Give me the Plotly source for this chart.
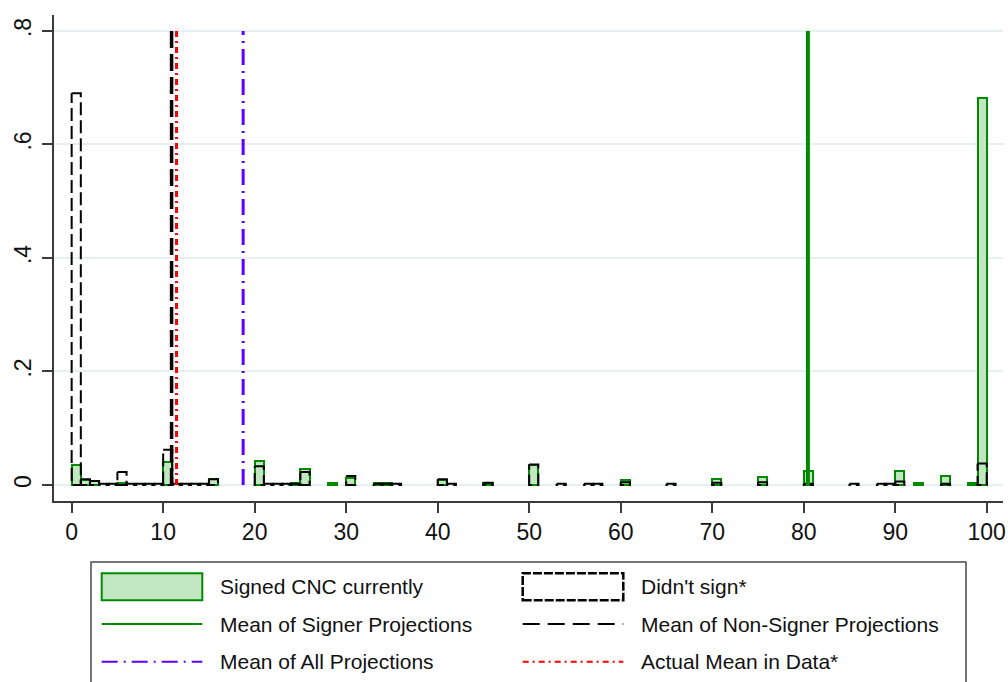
import plotly.graph_objects as go

# Histogram bins (left edge of each 1-unit bin) and densities
signed_bins = [0, 1, 2, 5, 10, 15, 20, 24, 25, 28, 30, 33, 34, 40, 45, 50, 60,
               70, 75, 80, 90, 92, 95, 98, 99]
signed_density = [0.036, 0.008, 0.007, 0.004, 0.041, 0.010, 0.043, 0.003, 0.029,
                  0.003, 0.013, 0.004, 0.004, 0.009, 0.004, 0.036, 0.008,
                  0.011, 0.014, 0.025, 0.025, 0.003, 0.016, 0.004, 0.682]

nonsigner_bins = [0, 1, 2, 3, 4, 5, 6, 7, 8, 9, 10, 11, 12, 13, 14, 15, 20, 21, 22,
                  23, 24, 25, 30, 33, 34, 35, 40, 41, 45, 50, 53, 56, 57, 60, 65,
                  70, 75, 80, 85, 88, 89, 90, 95, 99]
nonsigner_density = [0.690, 0.010, 0.007, 0.002, 0.002, 0.023, 0.002, 0.002, 0.002,
                     0.002, 0.062, 0.002, 0.002, 0.002, 0.002, 0.010, 0.033, 0.002,
                     0.002, 0.002, 0.002, 0.023, 0.016, 0.002, 0.002, 0.002, 0.010,
                     0.002, 0.004, 0.036, 0.002, 0.002, 0.002, 0.005, 0.002, 0.004,
                     0.005, 0.002, 0.002, 0.002, 0.002, 0.006, 0.002, 0.038]

# Reference means
mean_signer = 80.46
mean_nonsigner = 10.92
mean_all = 18.74
mean_actual = 11.46
line_top = 0.8

x_ticks = [0, 10, 20, 30, 40, 50, 60, 70, 80, 90, 100]
y_ticks = [0, 0.2, 0.4, 0.6, 0.8]
y_tick_text = ["0", ".2", ".4", ".6", ".8"]

GREEN = "#008a00"
GREEN_FILL = "#c2e6c2"
PURPLE = "#5c00ff"
RED = "#ff0000"
FONT = "Liberation Sans, Arial, Helvetica, sans-serif"

fig = go.Figure()

# Signers: filled bars
fig.add_trace(go.Bar(
    x=signed_bins, y=signed_density, width=1, offset=0,
    marker=dict(color=GREEN_FILL, line=dict(color=GREEN, width=2)),
    showlegend=False,
))

# Non-signers: dashed bar outlines (each bar traced from its top-left corner)
ox, oy = [], []
for b, h in zip(nonsigner_bins, nonsigner_density):
    ox += [b, b + 1, b + 1, b, b, None]
    oy += [h, h, 0, 0, h, None]
fig.add_trace(go.Scatter(
    x=ox, y=oy, mode="lines", connectgaps=False,
    line=dict(color="black", width=2, dash="13px,5px"),
    showlegend=False,
))

# Vertical mean lines
for m, color, width, dash in [
    (mean_signer, GREEN, 4, "solid"),
    (mean_nonsigner, "black", 3.5, "17px,6px"),
    (mean_all, PURPLE, 3, "16px,6px,2px,6px"),
    (mean_actual, RED, 3, "6px,4px,2px,4px"),
]:
    fig.add_trace(go.Scatter(
        x=[m, m], y=[0, line_top], mode="lines",
        line=dict(color=color, width=width, dash=dash),
        showlegend=False,
    ))

# Figure geometry (pixels)
W, H = 1008, 682
L, R, T, B = 54, 5, 15, 181
pw, ph = W - L - R, H - T - B


def px(xp):
    return (xp - L) / pw


def py(yp):
    return (H - B - yp) / ph


# Legend drawn as a boxed two-column key
shapes = []
annotations = []
shapes.append(dict(type="rect", xref="paper", yref="paper",
                   x0=px(91), x1=px(966), y0=py(700), y1=py(562),
                   line=dict(color="#4a4a4a", width=1.5), fillcolor="white",
                   layer="above"))

rows = [586.7, 624.0, 661.7]
cols = [(101.7, 202.3, 218.3), (522.7, 623.3, 639.3)]
entries = [
    (0, 0, "rect", dict(color=GREEN, width=2), GREEN_FILL, "Signed CNC currently"),
    (1, 0, "rect", dict(color="black", width=2.5, dash="9px,2px"), "rgba(0,0,0,0)", "Didn't sign*"),
    (0, 1, "line", dict(color=GREEN, width=2), None, "Mean of Signer Projections"),
    (1, 1, "line", dict(color="black", width=2, dash="17px,8px"), None, "Mean of Non-Signer Projections"),
    (0, 2, "line", dict(color=PURPLE, width=2, dash="16px,6px,2px,6px"), None, "Mean of All Projections"),
    (1, 2, "line", dict(color=RED, width=2, dash="6px,4px,2px,4px"), None, "Actual Mean in Data*"),
]
for c, r, kind, ln, fill, label in entries:
    x0, x1, xt = cols[c]
    yc = rows[r]
    if kind == "rect":
        shapes.append(dict(type="rect", xref="paper", yref="paper",
                           x0=px(x0), x1=px(x1), y0=py(yc + 13.5), y1=py(yc - 13.5),
                           line=ln, fillcolor=fill, layer="above"))
    else:
        shapes.append(dict(type="line", xref="paper", yref="paper",
                           x0=px(x0), x1=px(x1), y0=py(yc), y1=py(yc),
                           line=ln, layer="above"))
    annotations.append(dict(xref="paper", yref="paper", x=px(xt), y=py(yc),
                            text=label, showarrow=False, xanchor="left",
                            yanchor="middle",
                            font=dict(family=FONT, size=21, color="#111")))

axis_common = dict(
    showline=True, linecolor="#3a3a3a", linewidth=1.5,
    ticks="outside", ticklen=10, tickwidth=1.5, tickcolor="#3a3a3a",
    tickfont=dict(family=FONT, size=23, color="#111"),
    zeroline=False, mirror=False, automargin=False,
)

fig.update_layout(
    width=W, height=H,
    margin=dict(l=L, r=R, t=T, b=B, pad=0, autoexpand=False),
    paper_bgcolor="white", plot_bgcolor="white",
    barmode="overlay", bargap=0,
    showlegend=False,
    xaxis=dict(range=[-1.93, 101.78], tickvals=x_ticks, showgrid=False,
               **axis_common),
    yaxis=dict(range=[-0.0282, 0.828], tickvals=y_ticks, ticktext=y_tick_text,
               tickangle=-90, showgrid=True, gridcolor="#e6eff1", gridwidth=1.5,
               ticklabelstandoff=2, **axis_common),
    shapes=shapes,
    annotations=annotations,
)

fig.write_html("out.html")
